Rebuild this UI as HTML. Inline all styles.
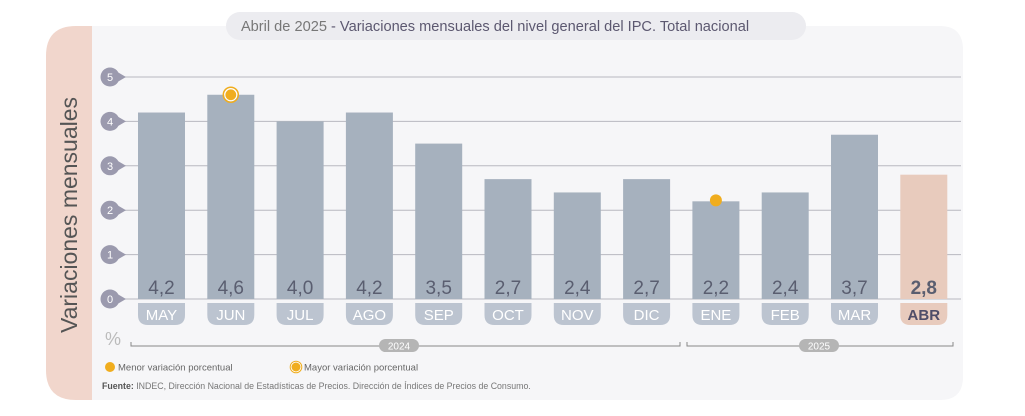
<!DOCTYPE html>
<html><head><meta charset="utf-8"><style>
body{margin:0;background:#fff;width:1025px;height:411px;overflow:hidden;font-family:"Liberation Sans",sans-serif}
</style></head><body>
<svg width="1025" height="411" viewBox="0 0 1025 411" style="font-family:'Liberation Sans',sans-serif">
<path d="M76,26 H100 V400 H76 Q46,400 46,370 V56 Q46,26 76,26Z" fill="#f1d6cc"/>
<path d="M92,26 H940 Q963,26 963,50 V377 Q963,400 940,400 H92Z" fill="#f6f6f8"/>
<rect x="226" y="12" width="580" height="28" rx="14" fill="#ececf0"/>
<text x="495" y="31" text-anchor="middle" font-size="14.6" fill="#5c5870"><tspan fill="#777">Abril de 2025</tspan> - Variaciones mensuales del nivel general del IPC. Total nacional</text>
<text transform="translate(77,215) rotate(-90)" text-anchor="middle" font-size="23" fill="#555">Variaciones mensuales</text>
<g id="grid"></g><g id="bars"></g>
<text x="105" y="345" font-size="18" fill="#bbb">%</text>
<path d="M131,342 V346 H680 V342 M687,342 V346 H953 V342" stroke="#888" fill="none"/>
<rect x="379" y="339" width="40" height="13" rx="6.5" fill="#b5b5b5"/>
<text x="399" y="349.5" text-anchor="middle" font-size="10" fill="#fff">2024</text>
<rect x="799" y="339" width="40" height="13" rx="6.5" fill="#b5b5b5"/>
<text x="819" y="349.5" text-anchor="middle" font-size="10" fill="#fff">2025</text>
<circle cx="110" cy="367" r="5" fill="#f0ad1e"/>
<text x="118" y="370.5" font-size="9.5" fill="#666">Menor variación porcentual</text>
<circle cx="296" cy="367" r="5" fill="#f0ad1e" stroke="#fff" stroke-width="1"/>
<circle cx="296" cy="367" r="5.8" fill="none" stroke="#f0ad1e" stroke-width="1"/>
<text x="304" y="370.5" font-size="9.5" fill="#666">Mayor variación porcentual</text>
<text x="102" y="389" font-size="8.8" fill="#777"><tspan font-weight="bold" fill="#555">Fuente:</tspan> INDEC, Dirección Nacional de Estadísticas de Precios. Dirección de Índices de Precios de Consumo.</text>
</svg>
<script>
const months=["MAY","JUN","JUL","AGO","SEP","OCT","NOV","DIC","ENE","FEB","MAR","ABR"];
const values=[4.2,4.6,4.0,4.2,3.5,2.7,2.4,2.7,2.2,2.4,3.7,2.8];
const yTicks=[0,1,2,3,4,5];
const maxIdx=1, minIdx=8;
const NS="http://www.w3.org/2000/svg";
const y=v=>299-v*44.4, x=i=>138+i*69.3, bw=47;
function mk(t,a,p){const e=document.createElementNS(NS,t);for(const k in a)e.setAttribute(k,a[k]);p.appendChild(e);return e;}
const g=document.getElementById('grid'), b=document.getElementById('bars');
yTicks.forEach(t=>{
 const l=mk('line',{x1:118,x2:961,y1:y(t),y2:y(t),stroke:'#b8b8c0','stroke-width':1},g);
 
 
 mk('path',{d:`M114,${y(t)-7} L126,${y(t)} L114,${y(t)+7}Z`,fill:'#9b9aae'},g);
 const c=mk('circle',{cx:110,cy:y(t),r:9.5,fill:'#9b9aae'},g);
 
 
 const tx=mk('text',{x:110,y:y(t)+4,'text-anchor':'middle','font-size':11,fill:'#fff'},g);
 tx.textContent=t;
 
 
});
values.forEach((v,i)=>{
 const last=i===values.length-1;
 const r=mk('rect',{x:x(i),y:y(v),width:bw,height:y(0)-y(v),fill:last?'#e8cbbd':'#a6b1be'},b);
 
 
 const tv=mk('text',{x:x(i)+bw/2,y:y(0)-5,'text-anchor':'middle','font-size':19,fill:'#5a5e70','font-weight':last?'bold':'normal'},b);
 tv.textContent=v.toFixed(1).replace('.',',');
 
 
 const p=mk('path',{d:`M${x(i)},303 H${x(i)+bw} V315 Q${x(i)+bw},325 ${x(i)+bw-10},325 H${x(i)+10} Q${x(i)},325 ${x(i)},315Z`,fill:last?'#e8cbbd':'#bcc4d0'},b);
 
 
 const tm=mk('text',{x:x(i)+bw/2,y:320,'text-anchor':'middle','font-size':15,fill:last?'#4f4d68':'#fff','font-weight':last?'bold':'normal'},b);
 tm.textContent=months[i];
 
 
});
const m1=mk('circle',{cx:x(maxIdx)+bw/2,cy:y(values[maxIdx]),r:6,fill:'#f0ad1e',stroke:'#fff','stroke-width':1.2},b);


mk('circle',{cx:x(maxIdx)+bw/2,cy:y(values[maxIdx]),r:7.5,fill:'none',stroke:'#f0ad1e','stroke-width':1.5},b);
const m2=mk('circle',{cx:x(minIdx)+bw/2,cy:y(values[minIdx])-1,r:6,fill:'#f0ad1e'},b);


</script>
</body></html>
